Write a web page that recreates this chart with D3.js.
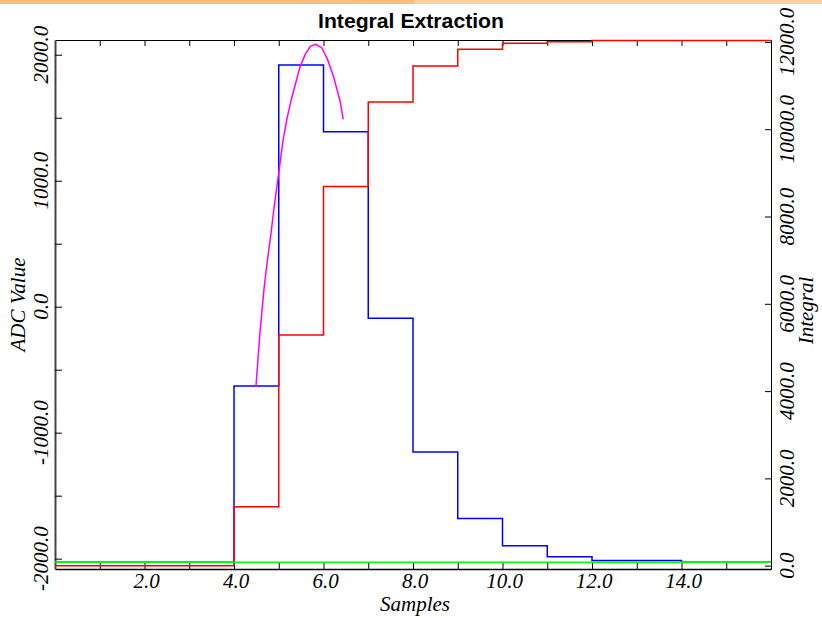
<!DOCTYPE html>
<html>
<head>
<meta charset="utf-8">
<script src="https://cdn.jsdelivr.net/npm/d3@7"></script>
<style>
  body { margin: 0; background: #fff; }
  .tick text { display: none; }
  .lbl { font-family: "Liberation Serif", "Times New Roman", serif; font-style: italic; font-size: 21px; fill: #000; }
</style>
</head>
<body>
<div id="chart"></div>
<script>
// chart data
var samples = [0, 1, 2, 3, 4, 5, 6, 7, 8, 9, 10, 11, 12, 13, 14, 15];
var adcValues = [-2029, -2029, -2029, -2029, -630, 1918, 1389, -92, -1153, -1681, -1897, -1984, -2014, -2014, -2029, -2029];
var integralValues = [0, 0, 0, 0, 1352, 5285, 8687, 10623, 11448, 11830, 11968, 12005, 12032, 12032, 12032, 12032];
var pedestal = -2029;
var fitX = [4.49, 4.58, 4.67, 4.73, 4.82, 4.89, 4.97, 5.03, 5.10, 5.18, 5.29, 5.38, 5.47, 5.59, 5.71, 5.83, 5.96, 6.09, 6.22, 6.31, 6.37, 6.44];
var fitY = [-635, -206, 138, 323, 561, 773, 984, 1143, 1329, 1487, 1659, 1778, 1897, 2003, 2069, 2083, 2056, 1963, 1831, 1712, 1633, 1487];
var xTicks = [1, 2, 3, 4, 5, 6, 7, 8, 9, 10, 11, 12, 13, 14, 15];
var xTickLabels = [2, 4, 6, 8, 10, 12, 14];
var leftTicks = [-2000, -1500, -1000, -500, 0, 500, 1000, 1500, 2000];
var leftTickLabels = [-2000, -1000, 0, 1000, 2000];
var rightTicks = [0, 2000, 4000, 6000, 8000, 10000, 12000];

var svgWidth = 822;
var svgHeight = 618;
var margin = { top: 40, right: 51, bottom: 49, left: 55 };
var width = svgWidth - margin.left - margin.right;
var height = svgHeight - margin.top - margin.bottom;

var svg = d3.select("#chart")
    .append("svg")
    .attr("width", svgWidth)
    .attr("height", svgHeight);

// top strip
svg.append("rect").attr("x", 0).attr("y", 0).attr("width", 414).attr("height", 4).attr("fill", "#fabd7c");
svg.append("rect").attr("x", 414).attr("y", 0).attr("width", 408).attr("height", 4).attr("fill", "#fed09c");

var chartGroup = svg.append("g")
    .attr("transform", `translate(${margin.left}, ${margin.top})`);

// scales
var xScale = d3.scaleLinear().domain([0, 16]).range([0, width]);
var yLeft = d3.scaleLinear().domain([-2082, 2117]).range([height, 0]);
var yRight = d3.scaleLinear().domain([-76, 12044]).range([height, 0]);

// axes (ticks inward)
chartGroup.append("g")
    .attr("transform", `translate(0, ${height})`)
    .call(d3.axisBottom(xScale).tickValues(xTicks).tickSizeInner(-6).tickSizeOuter(0).tickFormat(""))
    .call(g => g.select(".domain").attr("stroke-width", 1.5));
chartGroup.append("g")
    .call(d3.axisTop(xScale).tickValues(xTicks).tickSizeInner(-6).tickSizeOuter(0).tickFormat(""));
chartGroup.append("g")
    .call(d3.axisLeft(yLeft).tickValues(leftTicks).tickSizeInner(-7).tickSizeOuter(0).tickFormat(""))
    .call(g => g.select(".domain").attr("stroke", "#444").attr("stroke-width", 2));
chartGroup.append("g")
    .attr("transform", `translate(${width}, 0)`)
    .call(d3.axisRight(yRight).tickValues(rightTicks).tickSizeInner(-6).tickSizeOuter(0).tickFormat(""));

// lines
var blueData = samples.map((s, i) => [s, adcValues[i]]).concat([[16, adcValues[adcValues.length - 1]]]);
var redData = samples.map((s, i) => [s, integralValues[i]]).concat([[16, integralValues[integralValues.length - 1]]]);

var stepLeft = d3.line().x(d => xScale(d[0])).y(d => yLeft(d[1])).curve(d3.curveStepAfter);
var stepRight = d3.line().x(d => xScale(d[0])).y(d => yRight(d[1])).curve(d3.curveStepAfter);

chartGroup.append("path")
    .attr("d", stepLeft(blueData))
    .attr("fill", "none").attr("stroke", "#0000ff").attr("stroke-width", 1.5);

chartGroup.append("path")
    .attr("d", stepRight(redData))
    .attr("fill", "none").attr("stroke", "#ff0000").attr("stroke-width", 1.5);

chartGroup.append("line")
    .attr("x1", xScale(0)).attr("x2", xScale(16))
    .attr("y1", yLeft(pedestal)).attr("y2", yLeft(pedestal))
    .attr("stroke", "#00ff00").attr("stroke-width", 1.5);

var fitLine = d3.line().x(d => xScale(d[0])).y(d => yLeft(d[1]));
chartGroup.append("path")
    .attr("d", fitLine(fitX.map((x, i) => [x, fitY[i]])))
    .attr("fill", "none").attr("stroke", "#ff00ff").attr("stroke-width", 1.5);

// tick labels
chartGroup.selectAll(".xl")
    .data(xTickLabels)
    .enter()
    .append("text")
    .attr("class", "lbl")
    .attr("x", d => xScale(d) + 2)
    .attr("y", height + 19)
    .attr("text-anchor", "middle")
    .text(d => d.toFixed(1));

chartGroup.selectAll(".yl")
    .data(leftTickLabels)
    .enter()
    .append("text")
    .attr("class", "lbl")
    .attr("transform", d => `translate(-7, ${yLeft(d)}) rotate(-90)`)
    .attr("text-anchor", "middle")
    .text(d => d.toFixed(1));

chartGroup.selectAll(".yr")
    .data(rightTicks)
    .enter()
    .append("text")
    .attr("class", "lbl")
    .attr("transform", d => `translate(${width + 23}, ${yRight(d)}) rotate(-90)`)
    .attr("text-anchor", "middle")
    .text(d => d.toFixed(1));

// axis titles
svg.append("text")
    .attr("class", "lbl")
    .attr("x", margin.left + width / 2 + 2)
    .attr("y", 611)
    .attr("text-anchor", "middle")
    .text("Samples");

svg.append("text")
    .attr("class", "lbl")
    .attr("transform", `translate(25, ${margin.top + height / 2}) rotate(-90)`)
    .attr("text-anchor", "middle")
    .text("ADC Value");

svg.append("text")
    .attr("class", "lbl")
    .attr("transform", `translate(813, ${margin.top + height / 2 + 6}) rotate(-90)`)
    .attr("text-anchor", "middle")
    .text("Integral");

svg.append("text")
    .attr("x", 411)
    .attr("y", 28)
    .attr("text-anchor", "middle")
    .style("font-family", "'Liberation Sans', Arial, sans-serif")
    .style("font-weight", "bold")
    .style("font-size", "21px")
    .attr("textLength", 186)
    .attr("lengthAdjust", "spacingAndGlyphs")
    .text("Integral Extraction");
</script>
</body>
</html>
